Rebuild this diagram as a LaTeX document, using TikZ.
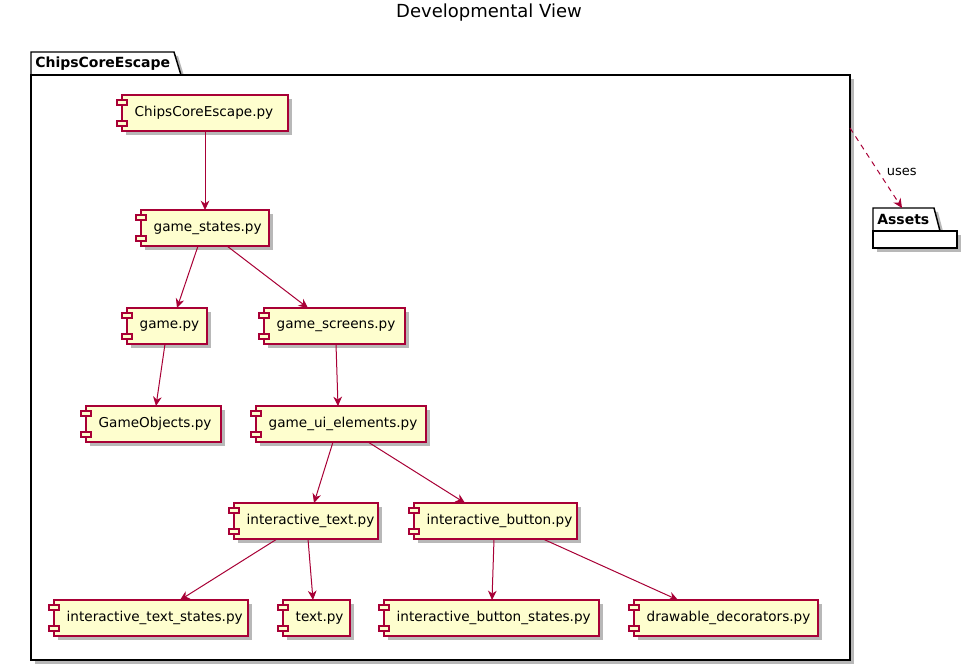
\documentclass[tikz,border=0pt]{standalone}
\usepackage{fontspec}
\setmainfont{DejaVu Sans}
\usetikzlibrary{arrows.meta,calc,shadows}
\definecolor{puborder}{HTML}{A80036}
\definecolor{pufill}{HTML}{FEFECE}
\def\px{0.75pt}
\begin{document}
\begin{tikzpicture}[x=0.75pt,y=-0.75pt,
  shadowed/.style={drop shadow={shadow xshift=3pt,shadow yshift=-3pt,fill=black,opacity=0.28}},
  comp/.style={rectangle,draw=puborder,fill=pufill,line width=1.1pt,outer sep=0pt,
    minimum height=36*\px,anchor=west,inner sep=0pt,shadowed,align=left,
    font=\fontsize{10.2}{12}\selectfont},
  icon/.style={draw=puborder,fill=pufill,line width=0.9pt},
  pkgline/.style={draw=black,fill=white,line width=1.1pt,shadowed},
  dep/.style={draw=puborder,line width=0.75pt,-{Stealth[length=7pt,width=6.5pt,inset=2.2pt]}},
  usesdep/.style={dep,dash pattern=on 4pt off 3.5pt},
  pkglabel/.style={font=\fontsize{10.5}{12}\bfseries\selectfont,anchor=west,inner sep=0pt}
]
\useasboundingbox (0,0) rectangle (978,670);

% title
\node[font=\fontsize{13.5}{16}\selectfont] (title) at (489,12.5) {Developmental View};

% package ChipsCoreEscape
\path[pkgline] (31,75) -- (31,52) -- (174,52) -- (181,75) -- cycle;
\node[pkgline,rectangle,outer sep=0pt,inner sep=0pt,anchor=north west,
  minimum width=819*\px,minimum height=585*\px] (pkg) at (31,75) {};
\node[pkglabel] (pkgname) at (35,63.5) {ChipsCoreEscape};

% package Assets
\path[pkgline] (873,231) -- (873,208) -- (934,208) -- (940,231) -- cycle;
\node[pkgline,rectangle,outer sep=0pt,inner sep=0pt,anchor=north west,
  minimum width=84*\px,minimum height=17*\px] (assets) at (873,231) {};
\node[pkglabel] (assetsname) at (877,219.5) {Assets};

% components
\node[comp,text width=166*\px] (cce) at (122,113) {\hspace*{9.5pt}ChipsCoreEscape.py};
\node[comp,text width=128*\px] (gs) at (141,228) {\hspace*{9.5pt}game\_states.py};
\node[comp,text width=80*\px] (game) at (127,326) {\hspace*{9.5pt}game.py};
\node[comp,text width=141*\px] (screens) at (264,326) {\hspace*{9.5pt}game\_screens.py};
\node[comp,text width=135*\px] (gobj) at (86,424) {\hspace*{9.5pt}GameObjects.py};
\node[comp,text width=170*\px] (uiel) at (256,424) {\hspace*{9.5pt}game\_ui\_elements.py};
\node[comp,text width=144*\px] (itext) at (234,521) {\hspace*{9.5pt}interactive\_text.py};
\node[comp,text width=163*\px] (ibtn) at (414,521) {\hspace*{9.5pt}interactive\_button.py};
\node[comp,text width=194*\px] (its) at (54,618) {\hspace*{9.5pt}interactive\_text\_states.py};
\node[comp,text width=67*\px] (textpy) at (283,618) {\hspace*{9.5pt}text.py};
\node[comp,text width=215*\px] (ibs) at (384,618) {\hspace*{9.5pt}interactive\_button\_states.py};
\node[comp,text width=184*\px] (dd) at (634,618) {\hspace*{9.5pt}drawable\_decorators.py};

\foreach \n in {cce,gs,game,screens,gobj,uiel,itext,ibtn,its,textpy,ibs,dd}{
  \draw[icon] ($(\n.north west)+(-5,5)$) rectangle ++(10,5);
  \draw[icon] ($(\n.south west)+(-5,-10)$) rectangle ++(10,5);
}

% dependencies
\draw[dep] ($(cce.south west)+(83,0)$) -- ($(gs.north west)+(64,0)$);
\draw[dep] ($(gs.south west)+(57,0)$) -- ($(game.north west)+(50,0)$);
\draw[dep] ($(gs.south west)+(86,0)$) -- ($(screens.north west)+(44,0)$);
\draw[dep] ($(game.south west)+(38,0)$) -- ($(gobj.north west)+(70,0)$);
\draw[dep] ($(screens.south west)+(72,0)$) -- ($(uiel.north west)+(82,0)$);
\draw[dep] ($(uiel.south west)+(77,0)$) -- ($(itext.north west)+(80,0)$);
\draw[dep] ($(uiel.south west)+(112,0)$) -- ($(ibtn.north west)+(51,0)$);
\draw[dep] ($(itext.south west)+(43,0)$) -- ($(its.north west)+(126,0)$);
\draw[dep] ($(itext.south west)+(74,0)$) -- ($(textpy.north west)+(30,0)$);
\draw[dep] ($(ibtn.south west)+(80,0)$) -- ($(ibs.north west)+(108,0)$);
\draw[dep] ($(ibtn.south west)+(129,0)$) -- ($(dd.north west)+(44,0)$);

% uses
\coordinate (assetsTab) at ($(assets.north west)+(29,-23)$);
\draw[usesdep] ($(pkg.north east)+(0,53)$) -- (assetsTab)
  node[pos=0.55,right=2.5pt,font=\fontsize{9.75}{12}\selectfont] (useslabel) {uses};
\end{tikzpicture}
\end{document}
